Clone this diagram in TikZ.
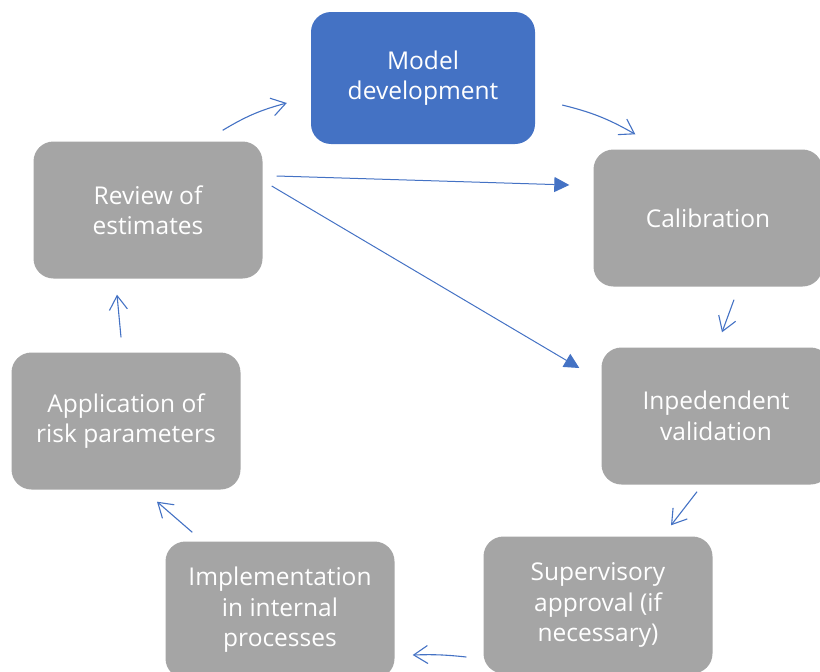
\documentclass[tikz,border=0pt]{standalone}
\usepackage{fontspec}
\setmainfont{Open Sans}
\usetikzlibrary{arrows.meta}
\definecolor{stepblue}{HTML}{4472C4}
\definecolor{stepgray}{HTML}{A5A5A5}
\begin{document}
\begin{tikzpicture}[x=1pt,y=-1pt,
	box/.style={rectangle, rounded corners=20pt, fill=stepgray, text=white, align=center, minimum width=229pt, minimum height=137pt, inner sep=0pt, font=\fontsize{24.5}{30.5}\selectfont},
	flow/.style={draw=stepblue, line width=1.1pt, -{Straight Barb[length=14pt,width=18pt,line width=1.1pt]}},
	jump/.style={draw=stepblue, line width=1pt, -{Triangle[length=15pt,width=15pt]}}]
					\useasboundingbox (0,0) rectangle (820,672);
					\node[box, fill=stepblue, minimum width=224pt, minimum height=132pt] (model) at (423,78) {Model\\development};
					\node[box] (calib) at (708,218) {Calibration};
					\node[box] (valid) at (716,416) {Inpedendent\\validation};
					\node[box] (super) at (598,605) {Supervisory\\approval (if\\necessary)};
					\node[box] (impl) at (280,610) {Implementation\\in internal\\processes};
					\node[box] (appl) at (126,421) {Application of\\risk parameters};
					\node[box] (review) at (148,210) {Review of\\estimates};


					\path
					([shift={(-40,-11)}]review.north east) edge[flow, bend left=8] ([shift={(-24,25)}]model.west)
					([shift={(27,27)}]model.east) edge[flow, bend left=8] ([shift={(42,-15)}]calib.north west)
					([shift={(26,13)}]calib.south) edge[flow] ([shift={(6,-15)}]valid.north)
					([shift={(-19,7)}]valid.south) edge[flow] ([shift={(73,-11)}]super.north)
					([shift={(-17,52)}]super.west) edge[flow, bend right=4] ([shift={(18,45)}]impl.east)
					([shift={(27,-9)}]impl.north west) edge[flow] ([shift={(31,12)}]appl.south)
					([shift={(-5,-15)}]appl.north) edge[flow] ([shift={(-31,16)}]review.south)
					([shift={(14,-34)}]review.east) edge[jump] ([shift={(-24,-33)}]calib.west)
					([shift={(9,-24)}]review.east) edge[jump] ([shift={(-22,-48)}]valid.west)
					;
				\end{tikzpicture}
\end{document}
